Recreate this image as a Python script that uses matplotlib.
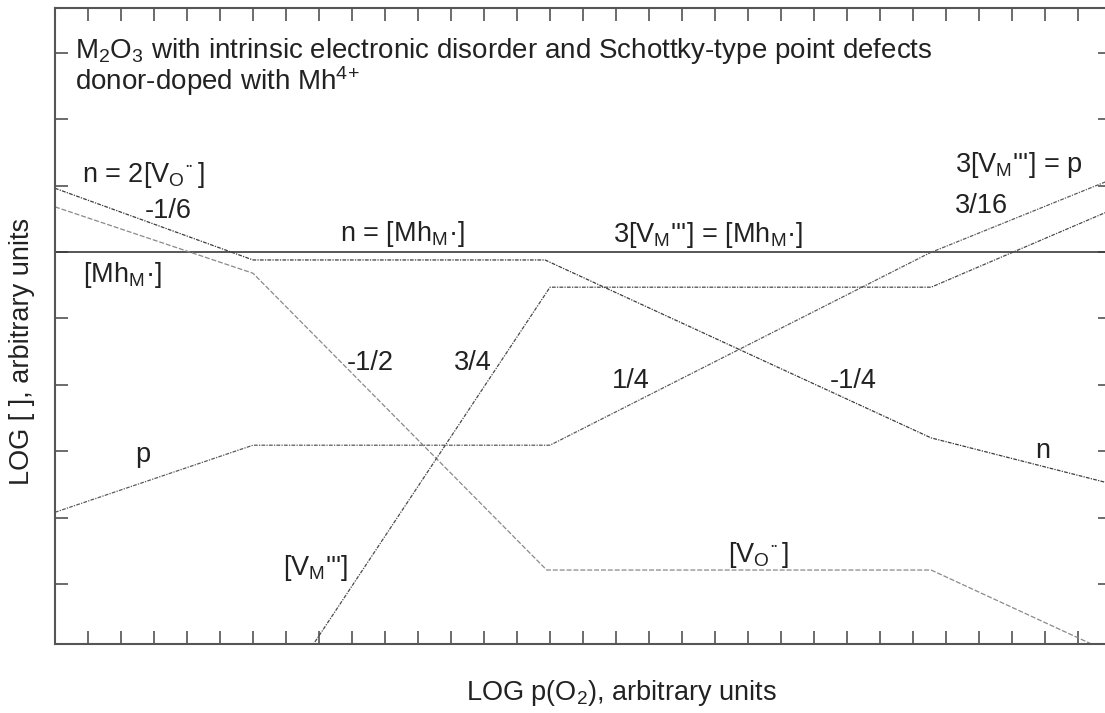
import matplotlib
matplotlib.use("Agg")
import matplotlib.pyplot as plt

# Brouwer-type diagram, x = LOG p(O2), y = LOG [ ]  (arbitrary units, one unit per tick)
x_mh = [0, 32]
y_mh = [6.0, 6.0]

x_n = [0, 6, 14.85, 26.55, 32]
y_n = [6.96, 5.88, 5.88, 3.2, 2.51]

x_vo = [0, 6, 14.9, 26.55, 32]
y_vo = [6.68, 5.68, 1.21, 1.21, -0.04]

x_p = [0, 6, 15, 26.5, 32]
y_p = [2.08, 3.09, 3.09, 5.985, 7.09]

x_vm = [7.5, 15, 26.55, 32]
y_vm = [-0.155, 5.47, 5.47, 6.63]

x_ticks = list(range(1, 32))
y_ticks = list(range(1, 10))

VO = r"V$_\mathregular{O}$$^{\cdot\!\!\cdot}$"
MH = r"Mh$_\mathregular{M}$·"
VM = r"V$_\mathregular{M}$'''"

titles = [
    (0.61, 8.92, r"M$_\mathregular{2}$O$_\mathregular{3}$ with intrinsic electronic disorder and Schottky-type point defects"),
    (0.61, 8.44, r"donor-doped with Mh$^\mathregular{4\!+}$"),
]

labels = [
    (0.82, 7.05, "n = 2[" + VO + "]"),
    (2.73, 6.51, "-1/6"),
    (0.85, 5.55, "[" + MH + "]"),
    (8.64, 6.17, "n = [" + MH + "]"),
    (16.9, 6.15, "3[" + VM + "] = [" + MH + "]"),
    (27.27, 7.20, "3[" + VM + "] = p"),
    (27.27, 6.59, "3/16"),
    (8.85, 4.22, "-1/2"),
    (12.09, 4.22, "3/4"),
    (16.88, 3.95, "1/4"),
    (23.48, 3.95, "-1/4"),
    (2.42, 2.84, "p"),
    (29.7, 2.90, "n"),
    (6.91, 1.14, "[" + VM + "]"),
    (20.39, 1.33, "[" + VO + "]"),
]

plt.rcParams['font.family'] = ['Liberation Sans', 'DejaVu Sans']
plt.rcParams['mathtext.fontset'] = 'custom'
plt.rcParams['mathtext.rm'] = 'Liberation Sans'
plt.rcParams['mathtext.it'] = 'Liberation Sans'

fig = plt.figure(figsize=(11.05, 7.13), dpi=100)
ax = fig.add_axes([55 / 1105, 69 / 713, 1056 / 1105, 636 / 713])

ax.plot(x_mh, y_mh, '-', color='#3a3a3a', linewidth=1.2)
ax.plot(x_n, y_n, linestyle=(0, (3, 1, 1, 1)), color='#3c3c3c', linewidth=0.9)
ax.plot(x_vo, y_vo, linestyle=(0, (4, 1.5)), color='#8a8a8a', linewidth=0.9)
ax.plot(x_p, y_p, linestyle=(0, (3, 1, 1, 1)), color='#5a5a5a', linewidth=0.9)
ax.plot(x_vm, y_vm, linestyle=(0, (3, 1, 1, 1)), color='#4a4a4a', linewidth=0.9)

for x, y, s in titles:
    ax.text(x, y, s, fontsize=20, color='#222222', ha='left', va='baseline')
for x, y, s in labels:
    ax.text(x, y, s, fontsize=19.5, color='#222222', ha='left', va='baseline')

ax.set_xlim(0, 32)
ax.set_ylim(0.096, 9.675)
ax.set_xticks(x_ticks)
ax.set_yticks(y_ticks)
ax.set_xticklabels([])
ax.set_yticklabels([])
ax.tick_params(direction='in', length=9.5, width=1.1, color='#444444',
               top=True, right=True, bottom=True, left=True)
for sp in ax.spines.values():
    sp.set_color('#555555')
    sp.set_linewidth(1.5)

fig.text(622 / 1105, 13 / 713, r"LOG p(O$_\mathregular{2}$), arbitrary units",
         fontsize=19.5, color='#222222', ha='center', va='baseline')
fig.text(22 / 1105, (713 - 351) / 713, "LOG [ ], arbitrary units",
         fontsize=19.5, color='#222222', ha='center', va='center', rotation=90)

fig.savefig("out.png", dpi=100)
